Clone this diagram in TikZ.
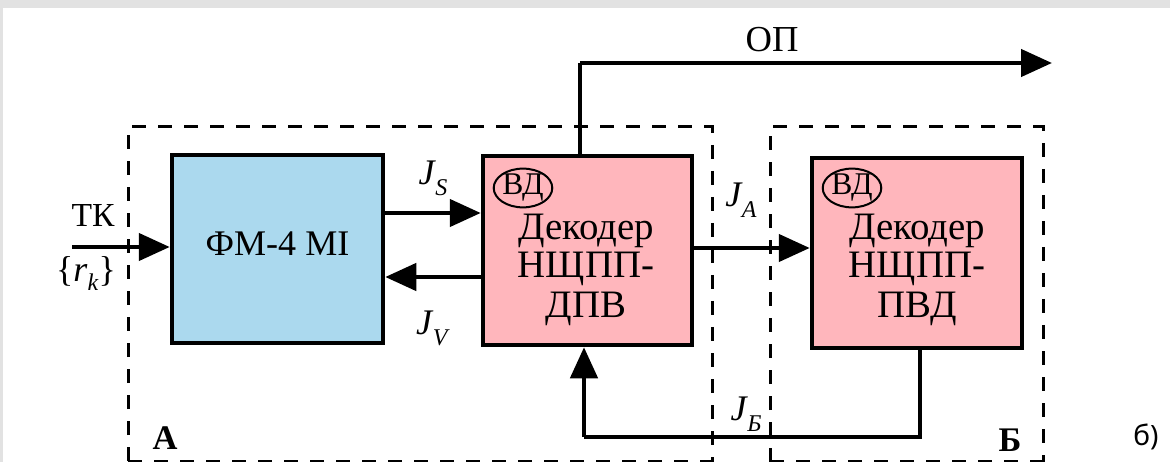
\documentclass[tikz,border=0pt]{standalone}
\usepackage{graphicx}
\usepackage{fontspec}
\setmainfont{Liberation Serif}
\newfontfamily\sansfig{Noto Sans}
\usetikzlibrary{arrows.meta,shapes.geometric}
\definecolor{boxblue}{RGB}{171,217,238}
\definecolor{boxpink}{RGB}{255,182,188}
\definecolor{edgegray}{RGB}{226,226,226}
\newcommand{\Jlab}[1]{\scalebox{1.2}{\textit{J}\kern-0.02em\raisebox{-0.3em}{\fontsize{20}{20}\selectfont\textit{#1}}}}
\begin{document}
\begin{tikzpicture}[x=1pt,y=-1pt,
  blk/.style={draw=black,line width=4.5pt,inner sep=0pt,anchor=center},
  arr/.style={line width=4.5pt,-{Triangle[length=31pt,width=27pt]}},
  plain/.style={line width=4.5pt},
  grp/.style={line width=3pt,dash pattern=on 14pt off 12pt},
  vdnode/.style={draw,ellipse,line width=2pt,minimum width=58pt,minimum height=37pt,inner sep=0pt,font=\fontsize{27}{27}\selectfont},
  dectext/.style={inner sep=0pt,font=\fontsize{35}{35}\selectfont},
  lab/.style={inner sep=0pt,font=\fontsize{30}{30}\selectfont},
  grplab/.style={inner sep=0pt,font=\fontsize{30}{30}\selectfont\bfseries}]
\useasboundingbox (0,0) rectangle (1170,462);
\begin{scope}
\clip (0,0) rectangle (1170,462);
\fill[white] (0,0) rectangle (1170,462);
\fill[edgegray] (0,0) rectangle (1170,8);
\fill[edgegray] (0,0) rectangle (3,462);

% group frames
\draw[grp] (128,461) -- (128,127) -- (712,127) -- (712,462);
\draw[grp] (128,461) -- (712,461);
\draw[grp] (770,462) -- (770,127) -- (1043,127) -- (1043,462);
\draw[grp] (770,461) -- (1043,461);

% blocks
\node[blk,fill=boxblue,minimum width=211pt,minimum height=188pt] (fm) at (277.5,249) {};
\node[blk,fill=boxpink,minimum width=209pt,minimum height=189pt] (dpv) at (587.5,250.5) {};
\node[blk,fill=boxpink,minimum width=210pt,minimum height=190pt] (pvd) at (917,253) {};

\node[dectext,anchor=base] (fmtxt) at (277.5,256) {\scalebox{1.03}{ФМ-4 MI}};
\node[dectext,anchor=base] (dpvl1) at (586,240) {\scalebox{1.11}{Декодер}};
\node[dectext,anchor=base] (dpvl2) at (586,278) {\scalebox{1.11}{НЩПП-}};
\node[dectext,anchor=base] (dpvl3) at (586,317) {\scalebox{1.11}{ДПВ}};
\node[dectext,anchor=base] (pvdl1) at (917,240) {\scalebox{1.11}{Декодер}};
\node[dectext,anchor=base] (pvdl2) at (917,278) {\scalebox{1.11}{НЩПП-}};
\node[dectext,anchor=base] (pvdl3) at (917,317) {\scalebox{1.11}{ПВД}};

\node[vdnode] (vd1) at (523,188) {\scalebox{1.17}{ВД}};
\node[vdnode] (vd2) at (852,188) {\scalebox{1.17}{ВД}};

% coordinates
\coordinate (tkin) at (72,247);
\coordinate (opend) at (1052,63);
\coordinate (optop) at (580,63);
\coordinate (fbr) at (920,437);
\coordinate (fbl) at (584,437);

% connectors
\draw[arr] (tkin) -- (tkin -| fm.west);
\draw[arr] (fm.east |- 0,213) -- (dpv.west |- 0,213);
\draw[arr] (dpv.west |- 0,277) -- (fm.east |- 0,277);
\draw[arr] (dpv.east |- 0,248) -- (pvd.west |- 0,248);
\draw[plain] (optop |- dpv.north) -- (optop);
\draw[arr] (optop) -- (opend);
\draw[plain] (fbr |- pvd.south) -- (fbr) -- (fbl);
\draw[arr] (fbl) -- (fbl |- dpv.south);

% labels
\node[lab] (tk) at (93,216) {\scalebox{1.12}{ТК}};
\node[lab] (rk) at (86,274) {\scalebox{1.2}{\{\textit{r}\raisebox{-0.25em}{\fontsize{20}{20}\selectfont\textit{k}}\}}};
\node[lab] (js) at (433,178) {\Jlab{S}};
\node[lab] (jv) at (433,328) {\Jlab{V}};
\node[lab] (ja) at (741,200) {\Jlab{A}};
\node[lab] (jb) at (746,414) {\Jlab{Б}};
\node[lab] (op) at (772,40) {\scalebox{1.22}{ОП}};
\node[grplab] (ga) at (165,438) {\scalebox{1.15}{А}};
\node[grplab] (gb) at (1010,440) {\scalebox{1.15}{Б}};
\node[inner sep=0pt,font=\sansfig\fontsize{28}{28}\selectfont] (fig) at (1146,437) {б)};
\end{scope}
\end{tikzpicture}
\end{document}
